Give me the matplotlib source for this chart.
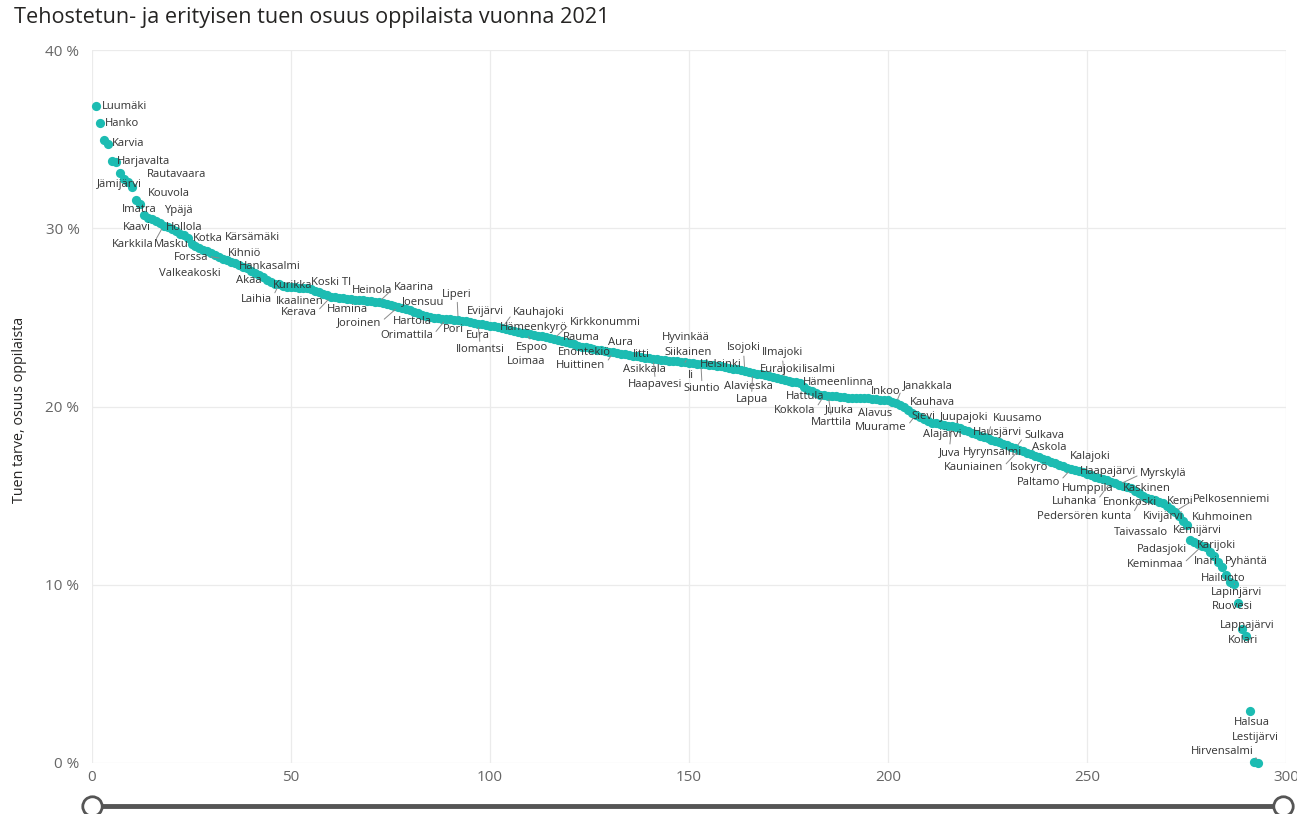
import matplotlib
matplotlib.use('Agg')
import matplotlib.pyplot as plt
from matplotlib.lines import Line2D

# share of pupils with intensified / special support, sorted descending (rank 1..293)
values = [
    36.85, 35.90, 34.95, 34.75, 33.75, 33.70, 33.10, 32.75, 32.60, 32.30,
    31.60, 31.35, 30.75, 30.60, 30.50, 30.40, 30.30, 30.15, 30.05, 29.95,
    29.85, 29.70, 29.60, 29.45, 29.10, 29.00, 28.90, 28.80, 28.70, 28.60,
    28.50, 28.40, 28.30, 28.20, 28.10, 28.05, 27.95, 27.85, 27.75, 27.60,
    27.50, 27.35, 27.25, 27.10, 27.00, 26.90, 26.85, 26.75, 26.70, 26.70,
    26.68, 26.66, 26.65, 26.62, 26.60, 26.50, 26.42, 26.33, 26.24, 26.15,
    26.13, 26.10, 26.08, 26.05, 26.03, 26.00, 25.98, 25.95, 25.93, 25.90,
    25.88, 25.85, 25.80, 25.75, 25.70, 25.65, 25.60, 25.55, 25.47, 25.39,
    25.31, 25.23, 25.16, 25.08, 25.00, 24.98, 24.96, 24.93, 24.91, 24.89,
    24.87, 24.85, 24.81, 24.77, 24.73, 24.69, 24.65, 24.61, 24.57, 24.53,
    24.49, 24.45, 24.40, 24.35, 24.30, 24.25, 24.20, 24.15, 24.11, 24.06,
    24.02, 23.98, 23.94, 23.89, 23.85, 23.79, 23.73, 23.66, 23.60, 23.54,
    23.48, 23.41, 23.35, 23.31, 23.27, 23.23, 23.19, 23.15, 23.12, 23.08,
    23.04, 23.00, 22.96, 22.93, 22.89, 22.85, 22.81, 22.78, 22.74, 22.70,
    22.68, 22.65, 22.63, 22.60, 22.58, 22.55, 22.53, 22.50, 22.48, 22.46,
    22.43, 22.41, 22.39, 22.37, 22.35, 22.32, 22.30, 22.26, 22.21, 22.17,
    22.13, 22.09, 22.04, 22.00, 21.95, 21.90, 21.85, 21.80, 21.75, 21.70,
    21.65, 21.60, 21.55, 21.50, 21.45, 21.40, 21.35, 21.30, 21.10, 20.95,
    20.85, 20.75, 20.65, 20.63, 20.61, 20.59, 20.57, 20.55, 20.52, 20.50,
    20.49, 20.48, 20.47, 20.46, 20.45, 20.43, 20.41, 20.39, 20.37, 20.35,
    20.27, 20.18, 20.10, 19.95, 19.80, 19.65, 19.54, 19.43, 19.32, 19.21,
    19.10, 19.06, 19.01, 18.97, 18.93, 18.89, 18.84, 18.80, 18.70, 18.60,
    18.50, 18.43, 18.36, 18.29, 18.21, 18.14, 18.07, 18.00, 17.91, 17.83,
    17.74, 17.66, 17.57, 17.49, 17.40, 17.32, 17.23, 17.15, 17.07, 16.98,
    16.90, 16.81, 16.72, 16.64, 16.55, 16.49, 16.43, 16.36, 16.30, 16.22,
    16.15, 16.07, 16.00, 15.92, 15.85, 15.77, 15.70, 15.62, 15.55, 15.47,
    15.40, 15.26, 15.12, 14.99, 14.85, 14.79, 14.73, 14.66, 14.60, 14.43,
    14.27, 14.10, 13.85, 13.60, 13.35, 12.50, 12.40, 12.30, 12.20, 12.10,
    11.85, 11.60, 11.30, 11.00, 10.55, 10.15, 10.05, 9.00, 7.50, 7.10,
    2.90, 0.05, 0.00,
]
ranks = list(range(1, len(values) + 1))

# labelled municipalities and their rank
label_names = [
    'Luumäki', 'Hanko', 'Karvia', 'Harjavalta', 'Jämijärvi', 'Rautavaara', 'Kouvola',
    'Imatra', 'Ypäjä', 'Karkkila', 'Kaavi', 'Hollola', 'Masku', 'Kotka', 'Kärsämäki',
    'Forssa', 'Kihniö', 'Valkeakoski', 'Hankasalmi', 'Akaa', 'Kurikka', 'Koski Tl',
    'Laihia', 'Ikaalinen', 'Kerava', 'Hamina', 'Heinola', 'Kaarina', 'Joensuu',
    'Joroinen', 'Hartola', 'Liperi', 'Orimattila', 'Pori', 'Evijärvi', 'Eura',
    'Ilomantsi', 'Kauhajoki', 'Hämeenkyrö', 'Kirkkonummi', 'Rauma', 'Aura', 'Espoo',
    'Loimaa', 'Enontekiö', 'Huittinen', 'Iitti', 'Asikkala', 'Haapavesi', 'Hyvinkää',
    'Siikainen', 'Ii', 'Siuntio', 'Helsinki', 'Isojoki', 'Alavieska', 'Lapua',
    'Ilmajoki', 'Eurajoki', 'Iisalmi', 'Hämeenlinna', 'Hattula', 'Kokkola', 'Marttila',
    'Juuka', 'Inkoo', 'Janakkala', 'Alavus', 'Kauhava', 'Sievi', 'Muurame',
    'Juupajoki', 'Kuusamo', 'Juva', 'Alajärvi', 'Hausjärvi', 'Sulkava', 'Askola',
    'Hyrynsalmi', 'Kauniainen', 'Isokyrö', 'Kalajoki', 'Paltamo', 'Haapajärvi',
    'Humppila', 'Luhanka', 'Myrskylä', 'Kaskinen', 'Enonkoski', 'Kemi',
    'Pelkosenniemi', 'Pedersören kunta', 'Kivijärvi', 'Kuhmoinen', 'Taivassalo',
    'Kemijärvi', 'Padasjoki', 'Karijoki', 'Keminmaa', 'Inari', 'Pyhäntä', 'Hailuoto',
    'Lapinjärvi', 'Ruovesi', 'Lappajärvi', 'Kolari', 'Halsua', 'Lestijärvi',
    'Hirvensalmi',
]
label_ranks = [
    1, 2, 4, 5, 8, 9, 11, 13, 17, 18, 19, 20, 21, 24, 30, 33, 35, 36, 37, 39, 45, 54,
    47, 50, 60, 62, 70, 72, 78, 77, 80, 92, 89, 88, 96, 94, 97, 103, 104, 116, 118,
    128, 109, 106, 121, 131, 135, 137, 141, 147, 149, 150, 153, 155, 164, 160, 166,
    174, 172, 177, 179, 181, 184, 185, 187, 195, 202, 193, 204, 206, 207, 213, 225,
    216, 214, 222, 232, 237, 230, 233, 234, 245, 246, 249, 251, 256, 258, 260, 263,
    268, 272, 264, 270, 273, 274, 275, 276, 277, 279, 281, 283, 286, 287, 288, 289,
    290, 291, 292, 293,
]

# label layout: offset from the point in pixels, alignment, leader line
label_layout = [
    (6, 0, 'left', 0), (5, 0, 'left', 0), (4, 0, 'left', 0), (5, 0, 'left', 0),
    (18, -5, 'right', 0), (19, 7, 'left', 0), (12, 6, 'left', 0), (-4, 5, 'center', 0),
    (4, 12, 'left', 0), (-10, -19, 'right', 1), (-17, 0, 'right', 0), (-6, 2, 'left', 0),
    (-4, -14, 'center', 0), (5, 0, 'left', 0), (13, 16, 'left', 0), (-15, 1, 'right', 1),
    (-3, 9, 'left', 0), (-15, -10, 'right', 0), (0, -2, 'left', 0), (-11, -12, 'left', 0),
    (2, -4, 'left', 0), (4, 6, 'left', 0), (-7, -15, 'right', 1), (-15, -14, 'left', 0),
    (-14, -16, 'right', 1), (-12, -12, 'left', 0), (-19, 11, 'left', 0), (15, 15, 'left', 1),
    (0, 6, 'left', 0), (-17, -16, 'right', 1), (-18, -11, 'left', 0), (-1, 26, 'center', 1),
    (-13, -17, 'right', 1), (1, -11, 'left', 0), (-7, 11, 'left', 0), (0, -14, 'left', 0),
    (2, -26, 'center', 1), (11, 16, 'left', 1), (-6, 1, 'left', 0), (16, 16, 'left', 1),
    (1, 4, 'left', 0), (7, 8, 'left', 0), (6, -14, 'center', 1), (-7, -31, 'left', 0),
    (-16, -8, 'left', 0), (-8, -13, 'right', 1), (4, 0, 'left', 0), (-14, -13, 'left', 0),
    (2, -26, 'center', 1), (-15, 24, 'left', 0), (3, 10, 'center', 1), (2, -13, 'center', 0),
    (1, -25, 'center', 1), (-9, 0, 'left', 0), (-1, 23, 'center', 1), (-5, -19, 'left', 0),
    (-1, -27, 'center', 1), (-2, 27, 'center', 1), (-17, 8, 'left', 0), (5, 13, 'left', 0),
    (-2, 4, 'left', 0), (-27, -5, 'left', 0), (-9, -15, 'right', 1), (3, -27, 'center', 1),
    (-11, -13, 'left', 0), (3, 7, 'left', 0), (7, 18, 'left', 1), (-2, -15, 'left', 0),
    (6, 5, 'left', 0), (0, -4, 'left', 0), (-9, -13, 'right', 1), (0, 7, 'left', 0),
    (5, 20, 'left', 1), (-2, -26, 'center', 1), (-21, -10, 'left', 0), (-3, 2, 'left', 0),
    (9, 13, 'left', 1), (-3, 8, 'left', 0), (-45, -7, 'left', 0), (-16, -18, 'right', 1),
    (-13, -16, 'left', 0), (3, 11, 'left', 0), (-11, -13, 'right', 1), (-3, 1, 'left', 0),
    (-29, -13, 'left', 0), (-14, -20, 'right', 1), (21, 11, 'left', 1), (-4, -1, 'left', 0),
    (-36, -9, 'left', 0), (8, 0, 'left', 0), (18, 12, 'left', 1), (-11, -21, 'right', 1),
    (-24, -11, 'left', 0), (13, -1, 'left', 0), (-14, -12, 'right', 0), (-14, -5, 'left', 0),
    (-3, -9, 'right', 0), (2, -4, 'left', 0), (-19, -19, 'right', 1), (-17, -10, 'left', 0),
    (7, 0, 'left', 0), (-7, 4, 'center', 0), (2, -9, 'center', 1), (-6, -4, 'center', 0),
    (5, 4, 'center', 0), (-3, -4, 'center', 0), (2, -11, 'center', 0), (1, 25, 'center', 0),
    (-5, 11, 'right', 1),
]

TEAL = '#1cbcb2'
FONT = ['Open Sans', 'DejaVu Sans']
plt.rcParams['font.family'] = FONT

fig = plt.figure(figsize=(12.97, 8.14), dpi=100)
ax = fig.add_axes([92 / 1297, 51 / 814, 1194 / 1297, 713 / 814])
ax.set_xlim(0, 300)
ax.set_ylim(0, 40)

ax.scatter(ranks, values, s=44, color=TEAL, linewidths=0, zorder=3, clip_on=False)

for name, r, (dx, dy, ha, lead) in zip(label_names, label_ranks, label_layout):
  v = values[r - 1]
  kw = {}
  if lead:
    if ha == 'center':
      rel = (0.5, 1.0) if dy < 0 else (0.5, 0.0)
    elif ha == 'right':
      rel = (1.0, 0.6)
    else:
      rel = (0.0, 0.4)
    kw['arrowprops'] = dict(arrowstyle='-', color='#8a8a8a', lw=0.7, relpos=rel,
                            shrinkA=0, shrinkB=3)
  ax.annotate(name, xy=(r, v), xytext=(dx, dy), textcoords='offset pixels',
              ha=ha, va='center', fontsize=8.1, color='#333333', zorder=4, **kw)

ax.set_xticks([0, 50, 100, 150, 200, 250, 300])
ax.set_yticks([0, 10, 20, 30, 40])
ax.set_yticklabels([f'{t} %' for t in [0, 10, 20, 30, 40]])
ax.tick_params(length=0, labelsize=11, labelcolor='#666666')
ax.tick_params(axis='y', pad=9)
ax.tick_params(axis='x', pad=5)
ax.grid(True, color='#ebebeb', lw=0.9)
ax.set_axisbelow(True)
for s in ax.spines.values():
  s.set_visible(False)

fig.text(14 / 1297, 1 - 18 / 814, 'Tehostetun- ja erityisen tuen osuus oppilaista vuonna 2021',
         ha='left', va='center', fontsize=15.6, color='#252423')
fig.text(20 / 1297, 1 - 410 / 814, 'Tuen tarve, osuus oppilaista', rotation=90,
         ha='center', va='center', fontsize=10.3, color='#252423')

# range slider under the axis
ys = 1 - 806 / 814
fig.add_artist(Line2D([92 / 1297, 1283 / 1297], [ys, ys], transform=fig.transFigure,
                      color='#555555', lw=3.5, solid_capstyle='butt'))
for xs in (92 / 1297, 1283 / 1297):
  fig.add_artist(Line2D([xs], [ys], transform=fig.transFigure, marker='o', markersize=14,
                        mfc='white', mec='#555555', mew=2))

fig.savefig('out.png', dpi=100, facecolor='white')
